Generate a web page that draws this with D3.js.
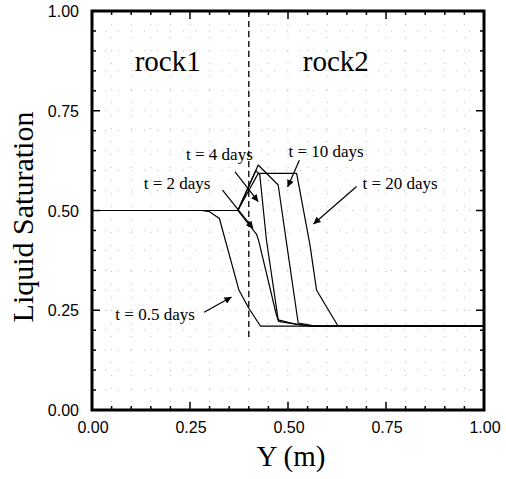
<!DOCTYPE html>
<html>
<head>
<meta charset="utf-8">
<script src="https://cdn.jsdelivr.net/npm/d3@7"></script>
<style>
  body { margin: 0; background: #fff; }
  svg { display: block; }
  .tick-label { font-family: "Liberation Sans", Arial, sans-serif; font-size: 16px; }
  .serif { font-family: "Liberation Serif", "Times New Roman", serif; }
</style>
</head>
<body>
<svg id="chart" width="506" height="479"></svg>
<script>
// Saturation profiles, [Y (m), liquid saturation]
const t05 = [[0, 0.5], [0.28, 0.5], [0.30, 0.497], [0.325, 0.48], [0.375, 0.30], [0.40, 0.255], [0.43, 0.21], [1, 0.21]];
const t2 = [[0, 0.5], [0.372, 0.5], [0.42, 0.44], [0.425, 0.425], [0.47, 0.24], [0.476, 0.222], [0.52, 0.215], [0.56, 0.21], [1, 0.21]];
const t4 = [[0, 0.5], [0.372, 0.5], [0.418, 0.60], [0.428, 0.59], [0.445, 0.426], [0.475, 0.226], [0.52, 0.215], [0.56, 0.21], [1, 0.21]];
const t10 = [[0, 0.5], [0.372, 0.5], [0.424, 0.614], [0.475, 0.564], [0.497, 0.414], [0.526, 0.218], [0.57, 0.21], [1, 0.21]];
const t20 = [[0, 0.5], [0.372, 0.5], [0.424, 0.593], [0.522, 0.593], [0.556, 0.414], [0.573, 0.30], [0.628, 0.21], [1, 0.21]];
const profiles = [t05, t2, t4, t10, t20];

const interfaceY = 0.4;
const xTicks = [0, 0.25, 0.5, 0.75, 1];
const yTicks = [0, 0.25, 0.5, 0.75, 1];

// label text, label anchor [Y, S], arrow from [Y, S], arrow to [Y, S]
const labels = [
  { text: "t = 0.5 days", at: [0.161, 0.226], from: [0.286, 0.245], to: [0.356, 0.283] },
  { text: "t = 2 days",   at: [0.217, 0.554], from: [0.333, 0.551], to: [0.411, 0.455] },
  { text: "t = 4 days",   at: [0.325, 0.626], from: [0.365, 0.597], to: [0.424, 0.522] },
  { text: "t = 10 days",  at: [0.597, 0.634], from: [0.529, 0.626], to: [0.499, 0.559] },
  { text: "t = 20 days",  at: [0.786, 0.554], from: [0.675, 0.560], to: [0.565, 0.466] }
];

const svg = d3.select('#chart');
const margin = { left: 92, right: 22, top: 11, bottom: 69 };
const W = 506, H = 479;

const x = d3.scaleLinear().domain([0, 1]).range([margin.left, W - margin.right]);
const y = d3.scaleLinear().domain([0, 1]).range([H - margin.bottom, margin.top]);

svg.append('defs').append('marker')
    .attr('id', 'arrow')
    .attr('viewBox', '0 0 10 10')
    .attr('refX', 10).attr('refY', 5)
    .attr('markerWidth', 11).attr('markerHeight', 7)
    .attr('markerUnits', 'userSpaceOnUse')
    .attr('orient', 'auto')
  .append('path')
    .attr('d', 'M0,0 L10,5 L0,10 Z')
    .attr('fill', '#000');

// faint dotted grid
const fine = d3.range(0.05, 1, 0.05);
svg.append('g').selectAll('line.gx')
    .data(fine)
  .enter().append('line')
    .attr('x1', d => x(d)).attr('x2', d => x(d))
    .attr('y1', y(1)).attr('y2', y(0))
    .attr('stroke', '#bbb').attr('stroke-width', 1)
    .attr('stroke-dasharray', '1,12');
svg.append('g').selectAll('line.gy')
    .data(fine)
  .enter().append('line')
    .attr('y1', d => y(d)).attr('y2', d => y(d))
    .attr('x1', x(0)).attr('x2', x(1))
    .attr('stroke', '#bbb').attr('stroke-width', 1)
    .attr('stroke-dasharray', '1,12');

// rock interface
svg.append('line')
    .attr('x1', x(interfaceY)).attr('x2', x(interfaceY))
    .attr('y1', y(1)).attr('y2', y(0.18))
    .attr('stroke', '#000').attr('stroke-width', 1.3)
    .attr('stroke-dasharray', '6,4');

// ticks (inward, every 0.05; longer on 0.25)
const tickVals = d3.range(0, 1.0001, 0.05);
function tlen(d) { return Math.abs(d * 4 - Math.round(d * 4)) < 1e-6 ? 8 : 4; }
const ticks = svg.append('g').attr('stroke', '#000').attr('stroke-width', 1.5);
tickVals.forEach(d => {
  ticks.append('line').attr('x1', x(d)).attr('x2', x(d)).attr('y1', y(0)).attr('y2', y(0) - tlen(d));
  ticks.append('line').attr('x1', x(d)).attr('x2', x(d)).attr('y1', y(1)).attr('y2', y(1) + tlen(d));
  ticks.append('line').attr('y1', y(d)).attr('y2', y(d)).attr('x1', x(0)).attr('x2', x(0) + tlen(d));
  ticks.append('line').attr('y1', y(d)).attr('y2', y(d)).attr('x1', x(1)).attr('x2', x(1) - tlen(d));
});

// frame
svg.append('rect')
    .attr('x', x(0)).attr('y', y(1))
    .attr('width', x(1) - x(0)).attr('height', y(0) - y(1))
    .attr('fill', 'none').attr('stroke', '#000').attr('stroke-width', 3);

// profiles
const line = d3.line().x(d => x(d[0])).y(d => y(d[1]));
svg.append('g').selectAll('path')
    .data(profiles)
  .enter().append('path')
    .attr('d', line)
    .attr('fill', 'none')
    .attr('stroke', '#000')
    .attr('stroke-width', 1.2)
    .attr('stroke-linejoin', 'round');

// tick labels
svg.append('g').selectAll('text')
    .data(xTicks)
  .enter().append('text')
    .attr('class', 'tick-label')
    .attr('x', d => x(d) + 1).attr('y', y(0) + 23)
    .attr('text-anchor', 'middle')
    .text(d3.format('.2f'));
svg.append('g').selectAll('text')
    .data(yTicks)
  .enter().append('text')
    .attr('class', 'tick-label')
    .attr('x', x(0) - 13).attr('y', d => y(d) + 6)
    .attr('text-anchor', 'end')
    .text(d3.format('.2f'));

// axis titles
svg.append('text')
    .attr('class', 'serif')
    .attr('x', 291).attr('y', 466)
    .attr('text-anchor', 'middle')
    .attr('font-size', 29)
    .text('Y (m)');
svg.append('text')
    .attr('class', 'serif')
    .attr('transform', 'translate(33,217) rotate(-90)')
    .attr('text-anchor', 'middle')
    .attr('font-size', 30)
    .text('Liquid Saturation');

// rock names
svg.append('text').attr('class', 'serif')
    .attr('x', x(0.193)).attr('y', y(0.849)).attr('text-anchor', 'middle')
    .attr('font-size', 29).text('rock1');
svg.append('text').attr('class', 'serif')
    .attr('x', x(0.622)).attr('y', y(0.849)).attr('text-anchor', 'middle')
    .attr('font-size', 29).text('rock2');

// time annotations
const ann = svg.append('g');
ann.selectAll('text')
    .data(labels)
  .enter().append('text')
    .attr('class', 'serif')
    .attr('x', d => x(d.at[0])).attr('y', d => y(d.at[1]))
    .attr('text-anchor', 'middle')
    .attr('font-size', 17)
    .text(d => d.text);
ann.selectAll('line')
    .data(labels)
  .enter().append('line')
    .attr('x1', d => x(d.from[0])).attr('y1', d => y(d.from[1]))
    .attr('x2', d => x(d.to[0])).attr('y2', d => y(d.to[1]))
    .attr('stroke', '#000').attr('stroke-width', 1.2)
    .attr('marker-end', 'url(#arrow)');
</script>
</body>
</html>
